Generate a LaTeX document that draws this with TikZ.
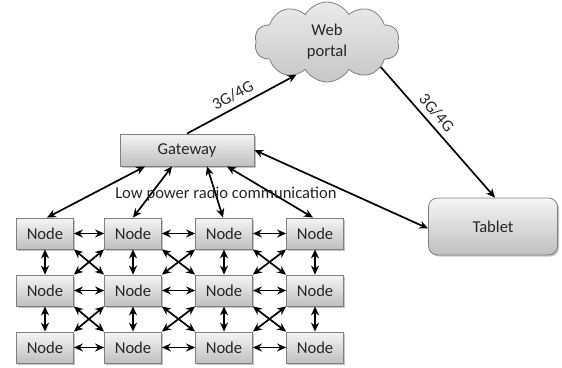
\documentclass[tikz,border=0pt]{standalone}
\usepackage{fontspec}
\setmainfont{Carlito}
\usetikzlibrary{shapes.symbols,shadows,arrows.meta,calc}
\definecolor{txt}{HTML}{262626}
\definecolor{bord}{HTML}{808080}
\tikzset{
  every node/.style={font=\fontsize{16.6}{21}\selectfont, text=txt},
  boxbase/.style={draw=bord, line width=0.8pt, top color=white!96!black, bottom color=black!25,
     drop shadow={shadow xshift=1.5pt, shadow yshift=-1.5pt, fill=black!45, opacity=0.5}},
  nodebox/.style={boxbase, minimum width=57pt, minimum height=31pt, inner sep=0pt},
  gwbox/.style={boxbase, minimum width=134pt, minimum height=32pt, inner sep=0pt},
  tabbox/.style={boxbase, rounded corners=9pt, minimum width=129pt, minimum height=57pt, inner sep=0pt},
  cloudbox/.style={cloud, cloud puffs=10, cloud puff arc=120, aspect=1.8, draw=bord, line width=0.8pt,
     top color=black!8, bottom color=black!22, minimum width=145pt, minimum height=80pt, align=center, inner sep=0pt},
  conn/.style={line width=1.7pt, black, -{Stealth[length=9pt,width=8pt]}},
  bconn/.style={line width=1.7pt, black, {Stealth[length=9pt,width=8pt]}-{Stealth[length=9pt,width=8pt]}},
  lbl/.style={font=\fontsize{16.6}{21}\selectfont, sloped, above, inner sep=5pt}
}
\begin{document}
\begin{tikzpicture}[x=1pt,y=-1pt]
\useasboundingbox (0,0) rectangle (562,367);
% cloud, gateway, tablet
\node[cloudbox] (cloud) at (327,42) {Web\\portal};
\node[gwbox] (gw) at (187,150) {Gateway};
\node[tabbox] (tab) at (493,226.5) {Tablet};
% grid of nodes
\foreach \c/\x in {1/45,2/133,3/224,4/315}{
  \foreach \r/\y in {1/233.5,2/290.5,3/347.5}{
    \node[nodebox] (n\r\c) at (\x,\y) {Node};
  }
}
% upper connectors
\draw[conn] (gw.north) -- (cloud.227) node[lbl, pos=0.47] {3G/4G};
\draw[conn] (cloud.-25) -- ([xshift=2pt]tab.north) node[lbl, pos=0.41] {3G/4G};
\draw[bconn] (gw.east) -- ([yshift=-2pt]tab.west);
% gateway to nodes
\draw[bconn] ([xshift=-42pt]gw.south) -- ([xshift=2pt]n11.north);
\draw[bconn] ([xshift=-15pt]gw.south) -- (n12.north);
\draw[bconn] ([xshift=20pt]gw.south) -- ([xshift=-1pt]n13.north);
\draw[bconn] ([xshift=40pt]gw.south) -- ([xshift=-2pt]n14.north);
\node (lpr) at (226,194) {Low power radio communication};
% horizontal
\foreach \r in {1,2,3}{
  \draw[bconn] (n\r1.east) -- (n\r2.west);
  \draw[bconn] (n\r2.east) -- (n\r3.west);
  \draw[bconn] (n\r3.east) -- (n\r4.west);
}
% vertical
\foreach \c in {1,2,3,4}{
  \draw[bconn] (n1\c.south) -- (n2\c.north);
  \draw[bconn] (n2\c.south) -- (n3\c.north);
}
% diagonals
\foreach \r/\s in {1/2,2/3}{
  \foreach \c/\d in {1/2,2/3,3/4}{
    \draw[bconn] (n\r\c.south east) -- (n\s\d.north west);
    \draw[bconn] (n\r\d.south west) -- (n\s\c.north east);
  }
}
\end{tikzpicture}
\end{document}
